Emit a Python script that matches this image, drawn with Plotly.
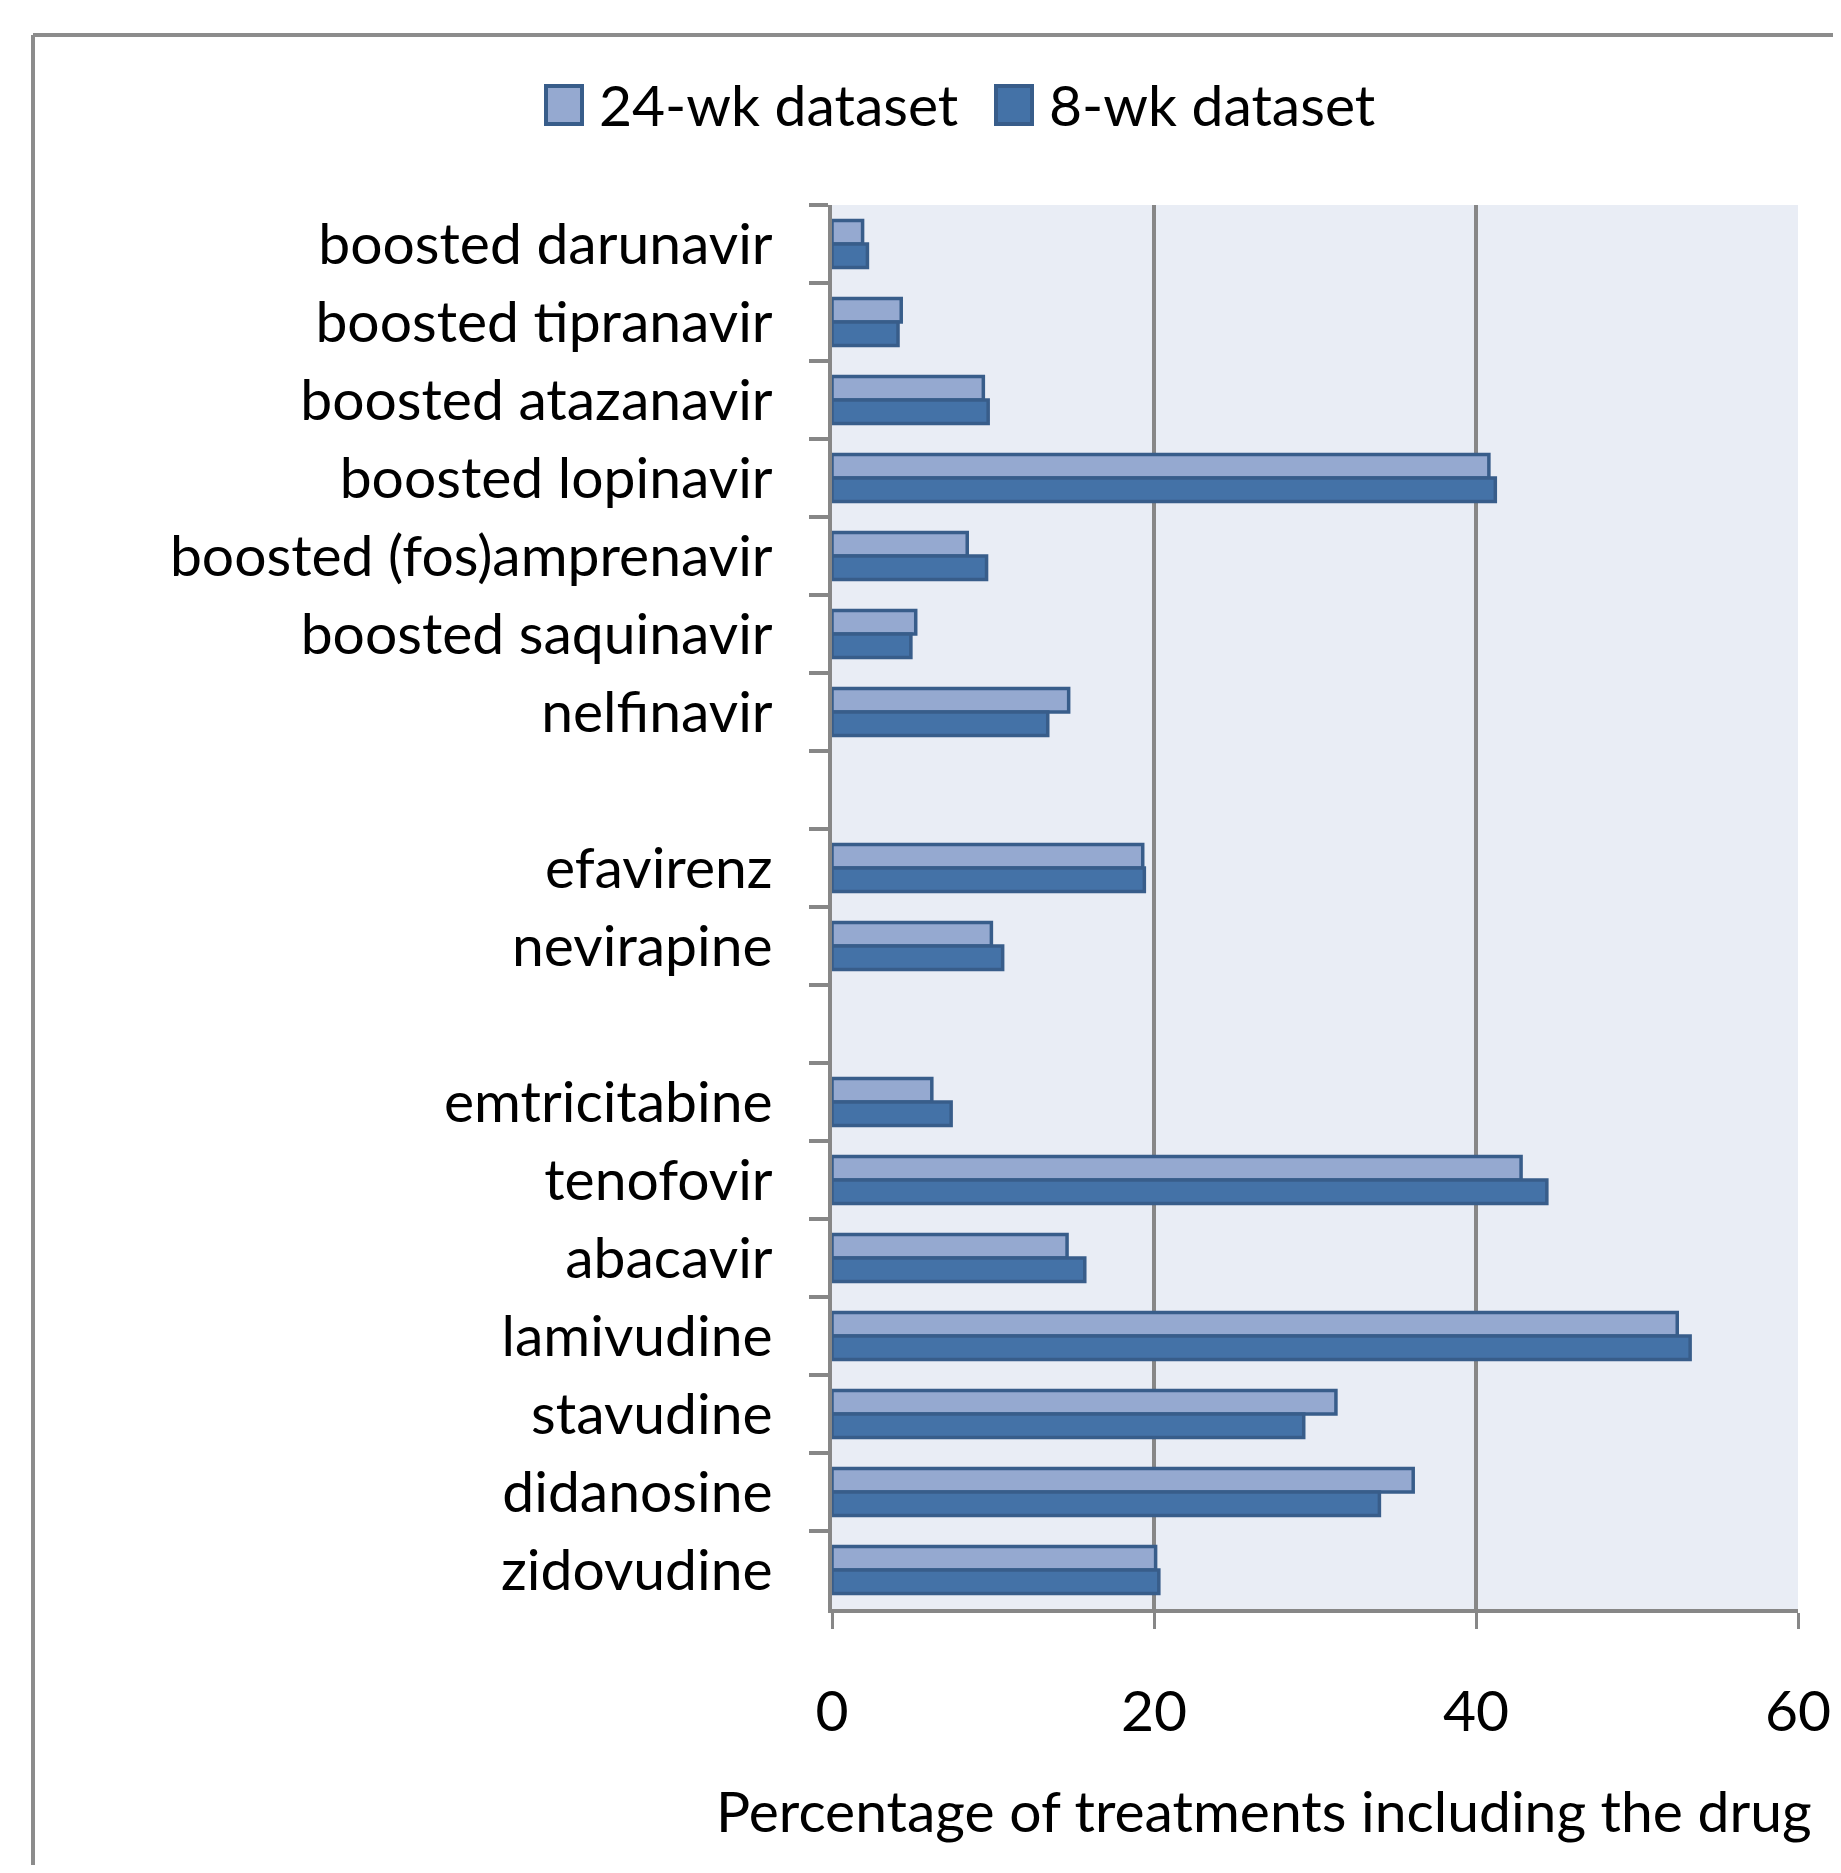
import plotly.graph_objects as go

categories = [
    "boosted darunavir", "boosted tipranavir", "boosted atazanavir",
    "boosted lopinavir", "boosted (fos)amprenavir", "boosted saquinavir",
    "nelfinavir", " ", "efavirenz", "nevirapine", "  ",
    "emtricitabine", "tenofovir", "abacavir", "lamivudine",
    "stavudine", "didanosine", "zidovudine",
]
wk24 = [1.9, 4.3, 9.4, 40.8, 8.4, 5.2, 14.7, None, 19.3, 9.9, None,
        6.2, 42.8, 14.6, 52.5, 31.3, 36.1, 20.1]
wk8 = [2.2, 4.1, 9.7, 41.2, 9.6, 4.9, 13.4, None, 19.4, 10.6, None,
       7.4, 44.4, 15.7, 53.3, 29.3, 34.0, 20.3]
series_names = ["24-wk dataset", "8-wk dataset"]
x_ticks = [0, 20, 40, 60]
x_title = "Percentage of treatments including the drug"

# page body has an 8px margin; work in page pixels and convert
OFF = 8
W, H = 1841 - 16, 1873 - 16
L, R, T, B = 832 - OFF, 1798 - OFF, 205 - OFF, 1609 - OFF

def px_x(p):
    return (p - OFF - L) / (R - L)

def px_y(p):
    return (B - (p - OFF)) / (B - T)

FONT = "Lato"
FS = 57
EDGE = "#385D8A"
GRAY = "#878787"
FILLS = ["#95A9D0", "#4472A7"]

fig = go.Figure()
for name, vals, fill in zip(series_names, [wk24, wk8], FILLS):
    fig.add_trace(go.Bar(
        y=categories, x=vals, orientation="h", name=name,
        marker=dict(color=fill, line=dict(color=EDGE, width=3.5)),
        showlegend=False,
    ))

# legend drawn as swatches + text (page pixel positions)
legend_items = [(546, 597), (996, 1047)]
shapes = []
annotations = []
for (sx, tx), name, fill in zip(legend_items, series_names, FILLS):
    shapes.append(dict(
        type="rect", xref="paper", yref="paper",
        x0=px_x(sx), x1=px_x(sx + 36), y0=px_y(86), y1=px_y(124),
        fillcolor=fill, line=dict(color=EDGE, width=4),
    ))
    annotations.append(dict(
        text=name, xref="paper", yref="paper",
        x=px_x(tx), y=px_y(104), xanchor="left", yanchor="middle",
        showarrow=False, font=dict(family=FONT, size=FS, color="black"),
    ))

annotations.append(dict(
    text=x_title, xref="paper", yref="paper",
    x=px_x(1264), y=px_y(1810), xanchor="center", yanchor="middle",
    showarrow=False, font=dict(family=FONT, size=FS, color="black"),
))

shapes += [
    dict(type="line", xref="paper", yref="paper",
         x0=px_x(33), x1=px_x(1900), y0=px_y(35), y1=px_y(35),
         line=dict(color="#8C8C8C", width=4)),
    dict(type="line", xref="paper", yref="paper",
         x0=px_x(33), x1=px_x(33), y0=px_y(35), y1=px_y(1950),
         line=dict(color="#8C8C8C", width=4)),
]

fig.update_layout(
    width=W, height=H,
    margin=dict(l=L, r=W - R, t=T, b=H - B, autoexpand=False),
    paper_bgcolor="white",
    plot_bgcolor="#E9EDF5",
    barmode="group", bargap=0.4, bargroupgap=0.0,
    font=dict(family=FONT, size=FS, color="black"),
    showlegend=False,
    xaxis=dict(
        range=[0, 60], tickvals=x_ticks, ticktext=[str(v) for v in x_ticks],
        showgrid=True, gridcolor=GRAY, gridwidth=4,
        zeroline=False,
        showline=True, linecolor=GRAY, linewidth=4,
        ticks="outside", ticklen=16, tickwidth=3, tickcolor=GRAY,
        ticklabelstandoff=34,
        tickfont=dict(family=FONT, size=FS, color="black"),
    ),
    yaxis=dict(
        type="category", categoryorder="array", categoryarray=categories,
        range=[len(categories) - 0.5, -0.5],
        showgrid=False, zeroline=False,
        showline=True, linecolor=GRAY, linewidth=4,
        ticks="outside", tickson="boundaries", ticklen=19, tickwidth=4,
        tickcolor=GRAY, ticklabelstandoff=44,
        tickfont=dict(family=FONT, size=FS, color="black"),
    ),
    annotations=annotations,
    shapes=shapes,
)

fig.write_html("out.html")
